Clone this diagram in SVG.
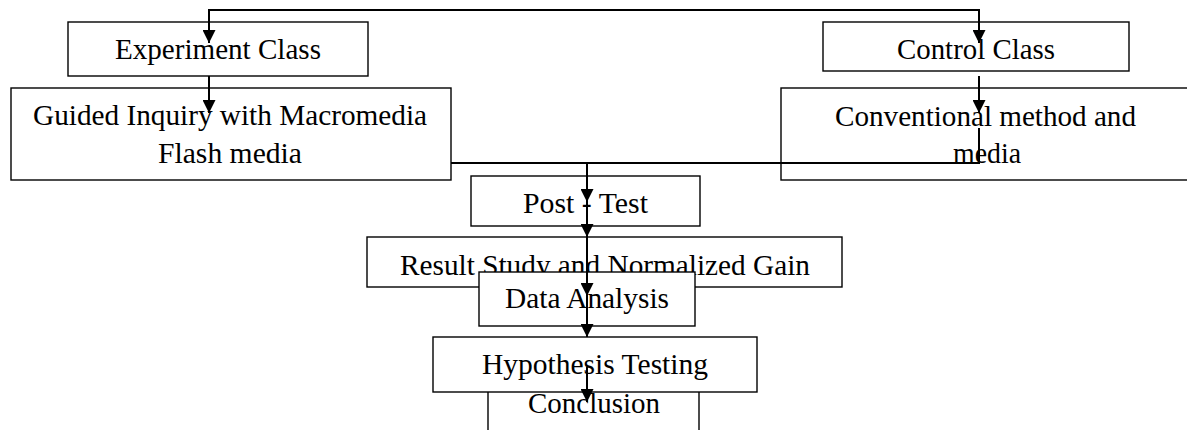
<svg xmlns="http://www.w3.org/2000/svg" width="1187" height="430" viewBox="0 0 1187 430">
  <defs>
    <style>
      .box { fill: #ffffff; stroke: #000000; stroke-width: 1.4; }
      .lbl { font-family: "Liberation Serif", "Times New Roman", serif; font-size: 29px; fill: #000000; }
      .conn { fill: none; stroke: #000000; stroke-width: 2; }
      .arr { marker-end: url(#ah); }
    </style>
    <marker id="ah" markerUnits="userSpaceOnUse" markerWidth="14" markerHeight="13" refX="13" refY="6.5" orient="auto">
      <path d="M0,0 L13,6.5 L0,13 z" fill="#000000"/>
    </marker>
  </defs>

  <g id="node-experiment">
    <rect class="box" x="68" y="22" width="300" height="54"/>
    <text class="lbl" x="115" y="59" textLength="206" lengthAdjust="spacingAndGlyphs">Experiment Class</text>
  </g>
  <g id="node-control">
    <rect class="box" x="823" y="22" width="306" height="49"/>
    <text class="lbl" x="897" y="59" textLength="158" lengthAdjust="spacingAndGlyphs">Control Class</text>
  </g>
  <g id="node-guided">
    <rect class="box" x="11" y="88" width="440" height="92"/>
    <text class="lbl" x="33" y="125" textLength="394" lengthAdjust="spacingAndGlyphs">Guided Inquiry with Macromedia</text>
    <text class="lbl" x="158" y="163" textLength="144" lengthAdjust="spacingAndGlyphs">Flash media</text>
  </g>
  <g id="node-conventional">
    <rect class="box" x="781" y="88" width="420" height="92"/>
    <text class="lbl" x="835" y="126" textLength="301" lengthAdjust="spacingAndGlyphs">Conventional method and</text>
    <text class="lbl" x="953" y="163" textLength="68" lengthAdjust="spacingAndGlyphs">media</text>
  </g>
  <g id="node-posttest">
    <rect class="box" x="471" y="176" width="229" height="50"/>
    <text class="lbl" x="523" y="213" textLength="125" lengthAdjust="spacingAndGlyphs">Post - Test</text>
  </g>
  <g id="node-result">
    <rect class="box" x="367" y="237" width="475" height="50"/>
    <text class="lbl" x="400" y="275" textLength="410" lengthAdjust="spacingAndGlyphs">Result Study and Normalized Gain</text>
  </g>
  <g id="node-data">
    <rect class="box" x="479" y="272" width="216" height="54"/>
    <text class="lbl" x="505" y="308" textLength="164" lengthAdjust="spacingAndGlyphs">Data Analysis</text>
  </g>
  <g id="node-conclusion">
    <rect class="box" x="488" y="385" width="211" height="60"/>
    <text class="lbl" x="528" y="413" textLength="132" lengthAdjust="spacingAndGlyphs">Conclusion</text>
  </g>
  <g id="node-hypothesis">
    <rect class="box" x="433" y="337" width="324" height="55"/>
    <text class="lbl" x="482" y="374" textLength="226" lengthAdjust="spacingAndGlyphs">Hypothesis Testing</text>
  </g>

  <g id="connectors">
    <path class="conn arr" d="M594,10 H209 V43"/>
    <path class="conn arr" d="M594,10 H979 V43"/>
    <path class="conn arr" d="M209,76 V113"/>
    <path class="conn arr" d="M979,76 V113"/>
    <path class="conn" d="M979,128 V163 H451"/>
    <path class="conn arr" d="M587,163 V202"/>
    <path class="conn arr" d="M587,202 V237"/>
    <path class="conn arr" d="M587,237 V296"/>
    <path class="conn arr" d="M587,296 V337"/>
    <path class="conn arr" d="M587,367 V402"/>
  </g>
</svg>
